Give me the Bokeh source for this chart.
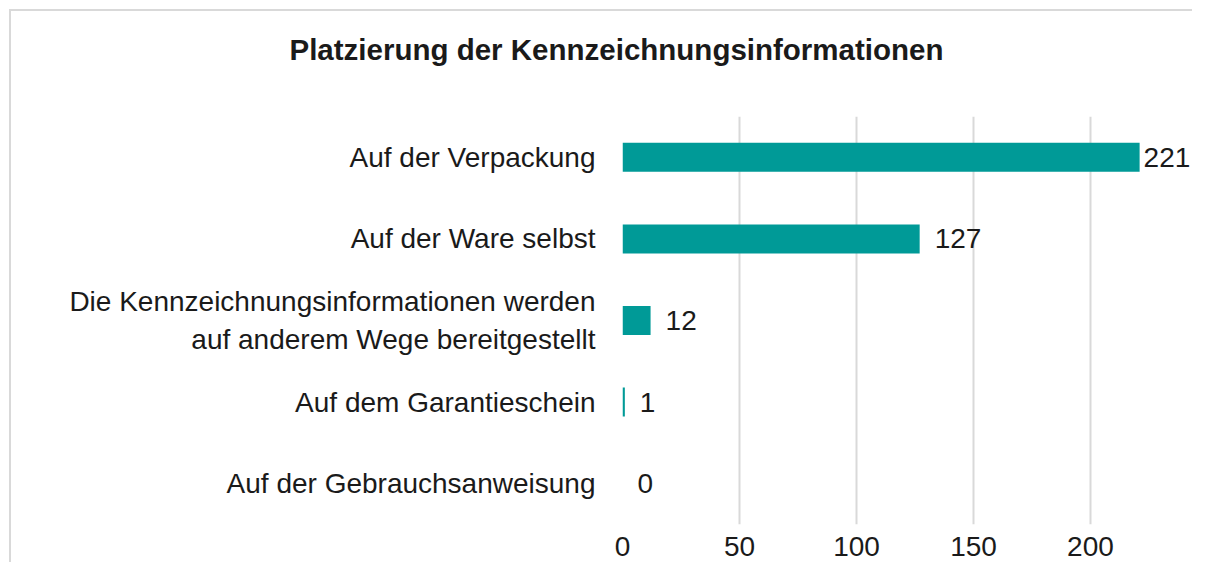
from bokeh.plotting import figure
from bokeh.models import ColumnDataSource, LabelSet, FactorRange, Range1d, FixedTicker
from bokeh.core.properties import value
from bokeh.embed import file_html
from bokeh.resources import INLINE

# ---- data ----
categories = [
    "Auf der Verpackung",
    "Auf der Ware selbst",
    "Die Kennzeichnungsinformationen werden\nauf anderem Wege bereitgestellt",
    "Auf dem Garantieschein",
    "Auf der Gebrauchsanweisung",
]
values = [221, 127, 12, 1, 0]
value_labels = [str(v) for v in values]
x_ticks = [0, 50, 100, 150, 200]
title_text = "Platzierung der Kennzeichnungsinformationen"

# ---- style ----
FONT = "Liberation Sans"
BAR = "#009a97"
GRID = "#d9d9d9"
TXT = "#1a1a1a"

src = ColumnDataSource(dict(
    cat=categories,
    val=values,
    lab=value_labels,
    off=[4 if v > 200 else 15 for v in values],
))

p = figure(
    width=1192, height=562,
    y_range=FactorRange(factors=categories[::-1]),
    x_range=Range1d(0, 243.6),
    output_backend="svg", toolbar_location=None,
    min_border_left=622, min_border_right=0,
    min_border_top=116, min_border_bottom=38,
)
p.outline_line_color = None
# transparent canvas so that the CSS chart-area border line shows through
p.border_fill_alpha = 0
p.background_fill_alpha = 0
p.styles = {
    "background": (
        "linear-gradient(#d9d9d9,#d9d9d9) 9px 9px / 2px 100% no-repeat, "
        "linear-gradient(#d9d9d9,#d9d9d9) 9px 9px / 100% 2px no-repeat, #ffffff"
    ),
}

p.hbar(y="cat", right="val", left=0, height=0.355, source=src,
       fill_color=BAR, line_color=None)

labels = LabelSet(x="val", y="cat", text="lab", source=src,
                  x_offset="off", text_baseline="middle",
                  text_font=value(FONT), text_font_size="28px", text_color=TXT)
p.add_layout(labels)

p.title.text = title_text
p.title.text_font = FONT
p.title.text_font_size = "29.5px"
p.title.text_font_style = "bold"
p.title.text_color = TXT
p.title.align = "left"
p.title.offset = 289 - 622
p.title.padding = (0, 0, 0, 24)   # (left, right, top, bottom)
p.title.standoff = 54

p.xgrid.grid_line_color = GRID
p.xgrid.grid_line_width = 2
p.ygrid.grid_line_color = None

p.xaxis.ticker = FixedTicker(ticks=x_ticks)
p.xaxis.axis_line_color = None
p.xaxis.major_tick_line_color = None
p.xaxis.minor_tick_line_color = None
p.xaxis.major_label_text_font = FONT
p.xaxis.major_label_text_font_size = "28px"
p.xaxis.major_label_text_color = TXT
p.xaxis.major_label_standoff = 6

p.yaxis.axis_line_color = None
p.yaxis.major_tick_line_color = None
p.yaxis.minor_tick_line_color = None
p.yaxis.major_label_text_font = FONT
p.yaxis.major_label_text_font_size = "28px"
p.yaxis.major_label_text_color = TXT
p.yaxis.major_label_standoff = 21

open("out.html", "w").write(file_html(p, INLINE))
